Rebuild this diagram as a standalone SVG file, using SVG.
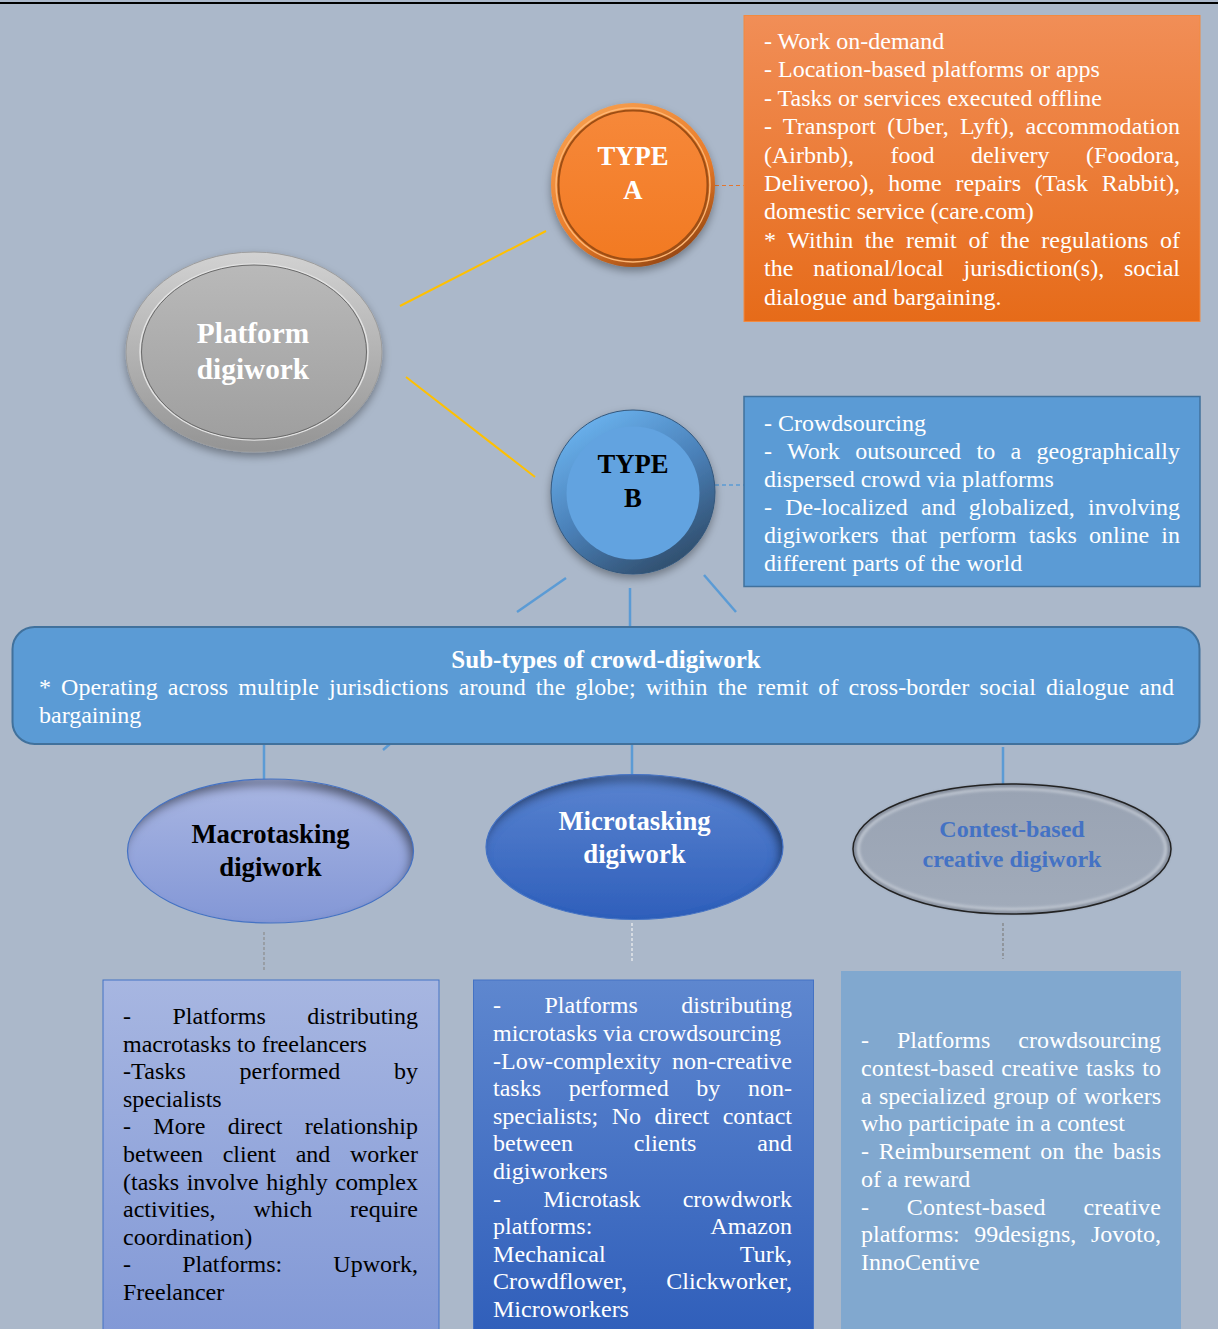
<svg xmlns="http://www.w3.org/2000/svg" width="1218" height="1329" viewBox="0 0 1218 1329">
<style>
.t{font-family:"Liberation Serif","Times New Roman",serif;font-size:24px}
.w{fill:#fff}
.k{fill:#000}
.b{font-family:"Liberation Serif","Times New Roman",serif;font-weight:bold;text-anchor:middle}
.y{stroke:#FFC000;stroke-width:2;fill:none}
.bl{stroke:#5B9BD5;stroke-width:2.5;fill:none}
</style>
<defs>
<linearGradient id="gA" x1="0" y1="0" x2="0" y2="1"><stop offset="0" stop-color="#F18E57"/><stop offset="1" stop-color="#E66B19"/></linearGradient>
<linearGradient id="gMacBox" x1="0" y1="0" x2="0" y2="1"><stop offset="0" stop-color="#A7B6E1"/><stop offset="1" stop-color="#8198D6"/></linearGradient>
<linearGradient id="gMicBox" x1="0" y1="0" x2="0" y2="1"><stop offset="0" stop-color="#5E87CF"/><stop offset="1" stop-color="#2F5EBA"/></linearGradient>
<linearGradient id="gMac" x1="0" y1="0" x2="0" y2="1"><stop offset="0" stop-color="#A9B6E2"/><stop offset="1" stop-color="#8397D6"/></linearGradient>
<linearGradient id="gMic" x1="0" y1="0" x2="0" y2="1"><stop offset="0" stop-color="#5A84D0"/><stop offset="1" stop-color="#2F5FBB"/></linearGradient>
<linearGradient id="gCon" x1="0" y1="0" x2="0" y2="1"><stop offset="0" stop-color="#99A3B3"/><stop offset="1" stop-color="#A1ABBA"/></linearGradient>
<linearGradient id="gPO" x1="0" y1="0" x2="0" y2="1"><stop offset="0" stop-color="#D2D2D2"/><stop offset="1" stop-color="#949494"/></linearGradient>
<linearGradient id="gPI" x1="0" y1="0" x2="0" y2="1"><stop offset="0" stop-color="#B9B9B9"/><stop offset="1" stop-color="#9F9F9F"/></linearGradient>
<linearGradient id="gAO" x1="0.2" y1="0" x2="0.8" y2="1"><stop offset="0" stop-color="#F7A050"/><stop offset="0.6" stop-color="#E87A28"/><stop offset="1" stop-color="#8A4010"/></linearGradient>
<linearGradient id="gAI" x1="0" y1="0" x2="0" y2="1"><stop offset="0" stop-color="#F6883A"/><stop offset="1" stop-color="#F27A22"/></linearGradient>
<linearGradient id="gBO" x1="0.2" y1="0" x2="0.8" y2="1"><stop offset="0" stop-color="#6DB6F2"/><stop offset="0.5" stop-color="#4A80B8"/><stop offset="1" stop-color="#2D4864"/></linearGradient>
<filter id="sh" x="-20%" y="-20%" width="140%" height="150%"><feDropShadow dx="0" dy="4" stdDeviation="4" flood-color="#000" flood-opacity="0.35"/></filter>
<filter id="ins" x="-5%" y="-5%" width="110%" height="110%">
<feFlood flood-color="#000" flood-opacity="0.75"/>
<feComposite in2="SourceAlpha" operator="out"/>
<feGaussianBlur stdDeviation="5"/>
<feOffset dx="-4" dy="7"/>
<feComposite in2="SourceAlpha" operator="in" result="s"/>
<feMerge><feMergeNode in="SourceGraphic"/><feMergeNode in="s"/></feMerge>
</filter>
<filter id="blur2"><feGaussianBlur stdDeviation="1.5"/></filter>
</defs>

<rect x="0" y="0" width="1218" height="1329" fill="#ABB8CA"/>
<rect x="0" y="2" width="1218" height="2" fill="#000"/>

<g id="connectors">
<line class="y" x1="400" y1="306" x2="546" y2="231"/>
<line class="y" x1="406" y1="377" x2="535" y2="477"/>
<line x1="715" y1="185.5" x2="744" y2="185.5" stroke="#E4762E" stroke-width="1.2" stroke-dasharray="4 3"/>
<line x1="715" y1="485" x2="744" y2="485" stroke="#5B9BD5" stroke-width="1.5" stroke-dasharray="4 3"/>
<line class="bl" x1="566" y1="578" x2="517" y2="612"/>
<line class="bl" x1="630" y1="588" x2="630" y2="626"/>
<line class="bl" x1="704" y1="575" x2="736" y2="612"/>
<line class="bl" x1="383" y1="750" x2="391" y2="743"/>
<line class="bl" x1="264" y1="745" x2="264" y2="781"/>
<line class="bl" x1="632" y1="745" x2="632" y2="775"/>
<line class="bl" x1="1003" y1="747" x2="1003" y2="785"/>
<line x1="264" y1="932" x2="264" y2="971" stroke="#8C8C8C" stroke-width="1.2" stroke-dasharray="3 2"/>
<line x1="632" y1="923" x2="632" y2="963" stroke="#F2F2F2" stroke-width="1.2" stroke-dasharray="3 2"/>
<line x1="1003" y1="923" x2="1003" y2="959" stroke="#7F7F7F" stroke-width="1.2" stroke-dasharray="3 2"/>
</g>

<g id="typeA-box">
<rect x="744" y="15.5" width="456" height="306" fill="url(#gA)" stroke="#F28A40" stroke-width="1"/>
<g class="t w">
<text x="764" y="49">- Work on-demand</text>
<text x="764" y="77.4">- Location-based platforms or apps</text>
<text x="764" y="105.8">- Tasks or services executed offline</text>
<text x="764" y="134.2" textLength="416" lengthAdjust="spacing" word-spacing="5">- Transport (Uber, Lyft), accommodation</text>
<text x="764" y="162.6" textLength="416" lengthAdjust="spacing" word-spacing="30.5">(Airbnb), food delivery (Foodora,</text>
<text x="764" y="191" textLength="416" lengthAdjust="spacing" word-spacing="7.7">Deliveroo), home repairs (Task Rabbit),</text>
<text x="764" y="219.4">domestic service (care.com)</text>
<text x="764" y="247.8" textLength="416" lengthAdjust="spacing" word-spacing="5.6">* Within the remit of the regulations of</text>
<text x="764" y="276.2" textLength="416" lengthAdjust="spacing" word-spacing="13.8">the national/local jurisdiction(s), social</text>
<text x="764" y="304.6">dialogue and bargaining.</text>
</g>
</g>

<g id="typeB-box">
<rect x="744" y="396.5" width="456" height="190" fill="#5B9BD5" stroke="#41719C" stroke-width="1.5"/>
<g class="t w">
<text x="764" y="431">- Crowdsourcing</text>
<text x="764" y="458.9" textLength="416" lengthAdjust="spacing" word-spacing="9.2">- Work outsourced to a geographically</text>
<text x="764" y="486.8">dispersed crowd via platforms</text>
<text x="764" y="514.7" textLength="416" lengthAdjust="spacing" word-spacing="7.2">- De-localized and globalized, involving</text>
<text x="764" y="542.6" textLength="416" lengthAdjust="spacing" word-spacing="6.3">digiworkers that perform tasks online in</text>
<text x="764" y="570.5">different parts of the world</text>
</g>
</g>

<g id="platform">
<ellipse cx="254" cy="352" rx="128" ry="100" fill="url(#gPO)" stroke="#9C9C9C" stroke-width="1" filter="url(#sh)"/>
<ellipse cx="254" cy="352" rx="114" ry="88" fill="none" stroke="#E2E2E2" stroke-width="1.5"/>
<ellipse cx="254" cy="352" rx="112.5" ry="87" fill="url(#gPI)" stroke="#6A6A6A" stroke-width="1"/>
<text class="b w" x="253" y="343" font-size="29.3">Platform</text>
<text class="b w" x="253" y="379" font-size="29.3">digiwork</text>
</g>

<g id="typeA">
<circle cx="633" cy="185" r="82" fill="url(#gAO)" filter="url(#sh)"/>
<circle cx="633" cy="185" r="77" fill="none" stroke="#FFB774" stroke-width="1.5"/>
<circle cx="633" cy="185" r="74.5" fill="url(#gAI)" stroke="#9E4E14" stroke-width="2"/>
<text class="b w" x="633" y="165" font-size="26.7">TYPE</text>
<text class="b w" x="633" y="199" font-size="26.7">A</text>
</g>

<g id="typeB">
<circle cx="633" cy="492" r="82" fill="url(#gBO)" stroke="#33577C" stroke-width="1" filter="url(#sh)"/>
<circle cx="633" cy="493" r="66.5" fill="#62A3E0"/>
<text class="b k" x="633" y="473" font-size="26.7">TYPE</text>
<text class="b k" x="633" y="507" font-size="26.7">B</text>
</g>

<g id="subtypes">
<rect x="12.5" y="627" width="1187" height="117" rx="22" fill="#5B9BD5" stroke="#41719C" stroke-width="2"/>
<text class="b w" x="606" y="668" font-size="25">Sub-types of crowd-digiwork</text>
<g class="t w">
<text x="39" y="695" textLength="1135" lengthAdjust="spacing" word-spacing="3.9">* Operating across multiple jurisdictions around the globe; within the remit of cross-border social dialogue and</text>
<text x="39" y="723">bargaining</text>
</g>
</g>

<g id="macro">
<ellipse cx="270.5" cy="851" rx="143" ry="72" fill="url(#gMac)" filter="url(#ins)"/>
<ellipse cx="270.5" cy="851" rx="143" ry="72" fill="none" stroke="#4472C4" stroke-width="1.2"/>
<text class="b k" x="270.5" y="843" font-size="26.7">Macrotasking</text>
<text class="b k" x="270.5" y="876" font-size="26.7">digiwork</text>
</g>

<g id="micro">
<ellipse cx="634.5" cy="847" rx="148.5" ry="72.5" fill="url(#gMic)" filter="url(#ins)"/>
<ellipse cx="634.5" cy="847" rx="148.5" ry="72.5" fill="none" stroke="#4472C4" stroke-width="1.2"/>
<text class="b w" x="634.5" y="830" font-size="26.7">Microtasking</text>
<text class="b w" x="634.5" y="863" font-size="26.7">digiwork</text>
</g>

<g id="contest">
<ellipse cx="1012" cy="849" rx="159" ry="65" fill="url(#gCon)"/>
<ellipse cx="1012" cy="849" rx="154" ry="60.5" fill="none" stroke="#C4CBD5" stroke-width="3" filter="url(#blur2)"/>
<ellipse cx="1012" cy="849" rx="157.5" ry="63.5" fill="none" stroke="#5C6370" stroke-width="2" opacity="0.7" filter="url(#blur2)"/>
<ellipse cx="1012" cy="849" rx="159" ry="65" fill="none" stroke="#222" stroke-width="1.5"/>
<text class="b" x="1012" y="837" font-size="24" fill="#4472C4">Contest-based</text>
<text class="b" x="1012" y="867" font-size="24" fill="#4472C4">creative digiwork</text>
</g>

<g id="macro-box">
<rect x="103" y="980" width="336" height="360" fill="url(#gMacBox)" stroke="#4472C4" stroke-width="1"/>
<g class="t k">
<text x="123" y="1024" textLength="295" lengthAdjust="spacing" word-spacing="35.5">- Platforms distributing</text>
<text x="123" y="1051.6">macrotasks to freelancers</text>
<text x="123" y="1079.2" textLength="295" lengthAdjust="spacing" word-spacing="47.5">-Tasks performed by</text>
<text x="123" y="1106.8">specialists</text>
<text x="123" y="1134.4" textLength="295" lengthAdjust="spacing" word-spacing="16.3">- More direct relationship</text>
<text x="123" y="1162" textLength="295" lengthAdjust="spacing" word-spacing="13.7">between client and worker</text>
<text x="123" y="1189.6" textLength="295" lengthAdjust="spacing" word-spacing="1.7">(tasks involve highly complex</text>
<text x="123" y="1217.2" textLength="295" lengthAdjust="spacing" word-spacing="31.9">activities, which require</text>
<text x="123" y="1244.8">coordination)</text>
<text x="123" y="1272.4" textLength="295" lengthAdjust="spacing" word-spacing="45.2">- Platforms: Upwork,</text>
<text x="123" y="1300">Freelancer</text>
</g>
</g>

<g id="micro-box">
<rect x="473.5" y="980" width="340" height="360" fill="url(#gMicBox)" stroke="#4472C4" stroke-width="1"/>
<g class="t w">
<text x="493" y="1013.3" textLength="299" lengthAdjust="spacing" word-spacing="37.5">- Platforms distributing</text>
<text x="493" y="1040.9">microtasks via crowdsourcing</text>
<text x="493" y="1068.5" textLength="299" lengthAdjust="spacing" word-spacing="5.1">-Low-complexity non-creative</text>
<text x="493" y="1096.1" textLength="299" lengthAdjust="spacing" word-spacing="21.7">tasks performed by non-</text>
<text x="493" y="1123.7" textLength="299" lengthAdjust="spacing" word-spacing="7.5">specialists; No direct contact</text>
<text x="493" y="1151.3" textLength="299" lengthAdjust="spacing" word-spacing="54.9">between clients and</text>
<text x="493" y="1178.9">digiworkers</text>
<text x="493" y="1206.5" textLength="299" lengthAdjust="spacing" word-spacing="36.2">- Microtask crowdwork</text>
<text x="493" y="1234.1" textLength="299" lengthAdjust="spacing" word-spacing="113">platforms: Amazon</text>
<text x="493" y="1261.7" textLength="299" lengthAdjust="spacing" word-spacing="128.4">Mechanical Turk,</text>
<text x="493" y="1289.3" textLength="299" lengthAdjust="spacing" word-spacing="33.1">Crowdflower, Clickworker,</text>
<text x="493" y="1316.9">Microworkers</text>
</g>
</g>

<g id="contest-box">
<rect x="841" y="971" width="340" height="370" fill="#81A8CF"/>
<g class="t w">
<text x="861" y="1048.3" textLength="300" lengthAdjust="spacing" word-spacing="22">- Platforms crowdsourcing</text>
<text x="861" y="1076" textLength="300" lengthAdjust="spacing" word-spacing="1.1">contest-based creative tasks to</text>
<text x="861" y="1103.7" textLength="300" lengthAdjust="spacing" word-spacing="1.35">a specialized group of workers</text>
<text x="861" y="1131.4">who participate in a contest</text>
<text x="861" y="1159.1" textLength="300" lengthAdjust="spacing" word-spacing="3.7">- Reimbursement on the basis</text>
<text x="861" y="1186.8">of a reward</text>
<text x="861" y="1214.5" textLength="300" lengthAdjust="spacing" word-spacing="31.4">- Contest-based creative</text>
<text x="861" y="1242.2" textLength="300" lengthAdjust="spacing" word-spacing="8.7">platforms: 99designs, Jovoto,</text>
<text x="861" y="1269.9">InnoCentive</text>
</g>
</g>
</svg>
